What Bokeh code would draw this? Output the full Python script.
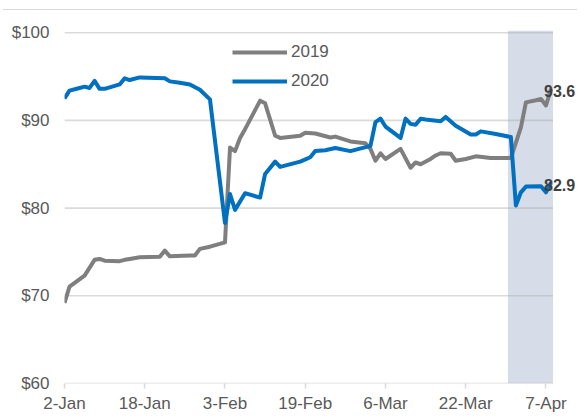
import pandas as pd
from bokeh.plotting import figure
from bokeh.models import (Range1d, FixedTicker, BoxAnnotation, Legend, LegendItem,
                          ColumnDataSource)
from bokeh.embed import file_html
from bokeh.resources import INLINE
from bokeh.core.properties import value

# ---------------- data ----------------
dates_2020 = ["01-02", "01-03", "01-05", "01-06", "01-07", "01-08", "01-09", "01-10",
              "01-13", "01-14", "01-15", "01-17", "01-22", "01-23", "01-25", "01-27",
              "01-29", "01-31", "02-03", "02-04", "02-05", "02-07", "02-10", "02-11",
              "02-13", "02-14", "02-18", "02-20", "02-21", "02-23", "02-25", "02-28",
              "03-03", "03-04", "03-05", "03-06", "03-09", "03-10", "03-11", "03-12",
              "03-13", "03-14", "03-17", "03-18", "03-20", "03-23", "03-24", "03-25",
              "03-28", "03-31", "04-01", "04-02", "04-03", "04-06", "04-07", "04-08"]
values_2020 = [92.5, 93.4, 93.7, 93.85, 93.7, 94.5, 93.6, 93.6,
               94.1, 94.8, 94.6, 94.9, 94.8, 94.45, 94.3, 94.1,
               93.5, 92.4, 78.3, 81.6, 79.8, 81.7, 81.2, 83.9,
               85.3, 84.7, 85.3, 85.8, 86.5, 86.6, 86.85, 86.5,
               87.1, 89.8, 90.2, 89.3, 88.0, 90.2, 89.6, 89.5,
               90.2, 90.1, 89.9, 90.4, 89.4, 88.4, 88.4, 88.75,
               88.45, 88.1, 80.3, 81.8, 82.45, 82.5, 81.8, 82.9]

dates_2019 = ["01-02", "01-03", "01-06", "01-08", "01-09", "01-10", "01-13", "01-14",
              "01-15", "01-17", "01-21", "01-22", "01-23", "01-27", "01-28", "01-29",
              "01-31", "02-03", "02-04", "02-05", "02-06", "02-07", "02-10", "02-11",
              "02-13", "02-14", "02-18", "02-19", "02-21", "02-24", "02-25", "02-28",
              "03-02", "03-03", "03-04", "03-05", "03-06", "03-09", "03-11", "03-12",
              "03-13", "03-15", "03-16", "03-17", "03-19", "03-20", "03-22", "03-24",
              "03-27", "03-31", "04-02", "04-03", "04-05", "04-06", "04-07", "04-08"]
values_2019 = [69.2, 71.05, 72.3, 74.1, 74.2, 74.0, 73.95, 74.1,
               74.2, 74.4, 74.45, 75.15, 74.5, 74.6, 74.6, 75.35,
               75.6, 76.1, 86.9, 86.5, 88.0, 89.0, 92.25, 91.95,
               88.25, 88.0, 88.25, 88.6, 88.5, 88.05, 88.15, 87.6,
               87.4, 86.75, 85.4, 86.25, 85.6, 86.75, 84.6, 85.2,
               85.0, 85.6, 86.0, 86.25, 86.2, 85.4, 85.6, 85.9,
               85.7, 85.7, 89.2, 92.05, 92.3, 92.45, 91.7, 93.6]

tick_dates = ["01-02", "01-18", "02-03", "02-19", "03-06", "03-22", "04-07"]
tick_labels = ["2-Jan", "18-Jan", "3-Feb", "19-Feb", "6-Mar", "22-Mar", "7-Apr"]
y_ticks = [60, 70, 80, 90, 100]
y_tick_labels = ["$60", "$70", "$80", "$90", "$100"]
series_names = ["2019", "2020"]
shade_start = "03-30 10:00"
axis_end = "04-08 09:36"   # right end of the date axis

# ---------------- helpers ----------------
BASE = pd.Timestamp("2020-01-02")


def to_day(md):
    return (pd.Timestamp("2020-" + md) - BASE) / pd.Timedelta(days=1)


x2020 = [to_day(d) for d in dates_2020]
x2019 = [to_day(d) for d in dates_2019]
x_axis_end = to_day(axis_end)

FONT = "Liberation Sans"
GRAY_TXT = "#595959"
C2019 = "#7F7F7F"
C2020 = "#0070C0"

# the date window (0..x_axis_end) spans 488.5 px; the frame is extended to the right
# so that the end labels are not clipped
DATA_PX = 488.5
FRAME_W = 513
x_frame_end = x_axis_end * FRAME_W / DATA_PX

p = figure(frame_width=FRAME_W, frame_height=353, output_backend="svg",
           toolbar_location=None,
           x_range=Range1d(0, x_frame_end), y_range=Range1d(60, 100.25),
           min_border_left=64, min_border_right=0, min_border_top=30,
           min_border_bottom=29)
p.outline_line_color = None
p.background_fill_color = "white"
p.border_fill_color = None
p.styles = {"background-image": "linear-gradient(#D9D9D9, #D9D9D9)",
            "background-size": "100% 1px",
            "background-position": "3px 9px",
            "background-repeat": "no-repeat",
            "background-color": "white"}

# shaded period
shade = BoxAnnotation(left=to_day(shade_start), right=x_axis_end,
                      fill_color="#D6DCE8", fill_alpha=1.0,
                      line_color=None, level="underlay")
p.add_layout(shade)

# grid lines (drawn only across the date window)
p.xgrid.grid_line_color = None
p.ygrid.grid_line_color = None
grid_src = ColumnDataSource(dict(x0=[0] * len(y_ticks), x1=[x_axis_end] * len(y_ticks),
                                 y=y_ticks))
p.segment(x0="x0", x1="x1", y0="y", y1="y", source=grid_src,
          line_color="#A6A6A6", line_alpha=0.42, line_width=1.6)

# axes
p.xaxis.ticker = FixedTicker(ticks=[to_day(d) for d in tick_dates])
p.xaxis.major_label_overrides = {to_day(d): l for d, l in zip(tick_dates, tick_labels)}
p.xaxis.axis_line_color = None
p.xaxis.major_tick_line_color = "#D9D9D9"
p.xaxis.major_tick_line_width = 1.5
p.xaxis.major_tick_out = 5
p.xaxis.major_tick_in = 0
p.xaxis.minor_tick_line_color = None
p.xaxis.major_label_standoff = 5

p.yaxis.ticker = FixedTicker(ticks=y_ticks)
p.yaxis.major_label_overrides = {t: l for t, l in zip(y_ticks, y_tick_labels)}
p.yaxis.axis_line_color = None
p.yaxis.major_tick_line_color = None
p.yaxis.major_tick_out = 0
p.yaxis.major_tick_in = 0
p.yaxis.minor_tick_line_color = None
p.yaxis.minor_tick_out = 0
p.yaxis.major_label_standoff = 15

for ax in (p.xaxis, p.yaxis):
    ax.major_label_text_font = FONT
    ax.major_label_text_font_size = "17px"
    ax.major_label_text_color = GRAY_TXT

src19 = ColumnDataSource(dict(x=x2019, y=values_2019))
src20 = ColumnDataSource(dict(x=x2020, y=values_2020))
r19 = p.line("x", "y", source=src19, line_color=C2019, line_width=4, line_join="round")
r20 = p.line("x", "y", source=src20, line_color=C2020, line_width=4, line_join="round")

# end labels
lab = ColumnDataSource(dict(x=[x2019[-1], x2020[-1]], y=[values_2019[-1], values_2020[-1]],
                            t=[f"{values_2019[-1]:.1f}", f"{values_2020[-1]:.1f}"]))
p.text("x", "y", text="t", source=lab, text_font=value(FONT), text_font_style="bold",
       text_font_size="16px", text_color="#404040", text_align="left",
       text_baseline="middle", x_offset=-7, y_offset=2)

legend = Legend(items=[LegendItem(label=series_names[0], renderers=[r19]),
                       LegendItem(label=series_names[1], renderers=[r20])],
                location=(168, 292), orientation="vertical")
legend.glyph_width = 55
legend.glyph_height = 20
legend.label_height = 20
legend.spacing = 9
legend.padding = 0
legend.margin = 0
legend.label_standoff = 4
legend.border_line_color = None
legend.background_fill_alpha = 0
legend.label_text_font = FONT
legend.label_text_font_size = "17px"
legend.label_text_color = GRAY_TXT
p.add_layout(legend)

open("out.html", "w").write(file_html(p, INLINE))
